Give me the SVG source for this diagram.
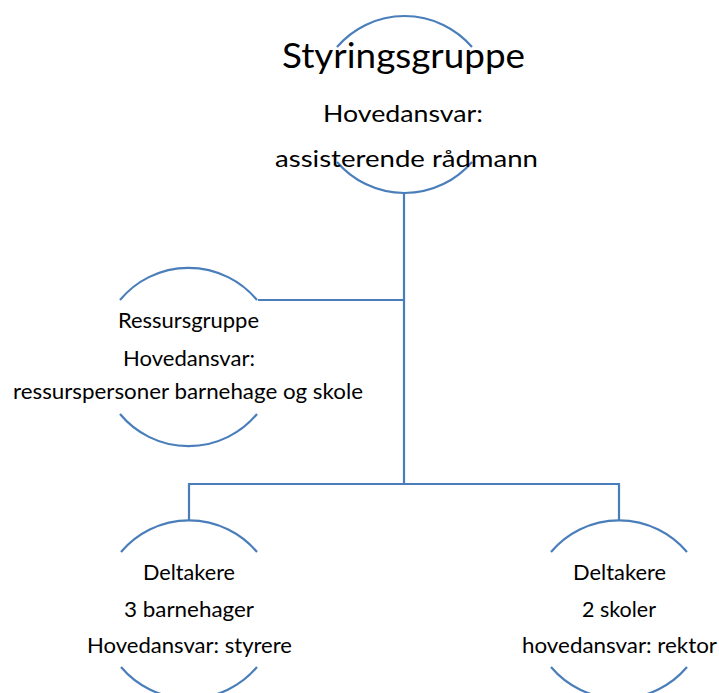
<svg xmlns="http://www.w3.org/2000/svg" width="719" height="693" viewBox="0 0 719 693">
<style>
.arc{fill:none;stroke:#4a7ebb;stroke-width:2.2}
.con{fill:none;stroke:#4a7ebb;stroke-width:2.2}
text{font-family:Lato,"Open Sans",sans-serif;fill:#000;text-anchor:middle}
.t1{font-size:35px}
.t2{font-size:24px}
.t3{font-size:21px}
</style>
<rect width="719" height="693" fill="#fff"/>
<g id="connectors">
<path class="con" d="M404,193 V484 M258,300 H404 M189,520 V484 H619 V520"/>
</g>
<g id="styringsgruppe">
<path class="arc" d="M337,47 A89,89 0 0 1 472,47"/>
<path class="arc" d="M337,162 A89,89 0 0 0 472,162"/>
<text class="t1" x="403.5" y="68" textLength="243" lengthAdjust="spacingAndGlyphs">Styringsgruppe</text>
<text class="t2" x="403" y="122" textLength="160" lengthAdjust="spacingAndGlyphs">Hovedansvar:</text>
<text class="t2" x="406.5" y="167" textLength="263" lengthAdjust="spacingAndGlyphs">assisterende rådmann</text>
</g>
<g id="ressursgruppe">
<path class="arc" d="M120,300 A89,89 0 0 1 257,300"/>
<path class="arc" d="M120,414 A89,89 0 0 0 257,414"/>
<text class="t3" x="188.5" y="328" textLength="141" lengthAdjust="spacingAndGlyphs">Ressursgruppe</text>
<text class="t3" x="189" y="366" textLength="132" lengthAdjust="spacingAndGlyphs">Hovedansvar:</text>
<text class="t3" x="188" y="399" textLength="350" lengthAdjust="spacingAndGlyphs">ressurspersoner barnehage og skole</text>
</g>
<g id="barnehager">
<path class="arc" d="M121,552 A89,89 0 0 1 257,552"/>
<path class="arc" d="M121,667 A89,89 0 0 0 257,667"/>
<text class="t3" x="189" y="580" textLength="92" lengthAdjust="spacingAndGlyphs">Deltakere</text>
<text class="t3" x="189" y="617" textLength="130" lengthAdjust="spacingAndGlyphs">3 barnehager</text>
<text class="t3" x="189.5" y="653" textLength="205" lengthAdjust="spacingAndGlyphs">Hovedansvar: styrere</text>
</g>
<g id="skoler">
<path class="arc" d="M551,552 A89,89 0 0 1 687,552"/>
<path class="arc" d="M551,667 A89,89 0 0 0 687,667"/>
<text class="t3" x="619.5" y="580" textLength="93" lengthAdjust="spacingAndGlyphs">Deltakere</text>
<text class="t3" x="619" y="617" textLength="74" lengthAdjust="spacingAndGlyphs">2 skoler</text>
<text class="t3" x="619.5" y="653" textLength="195" lengthAdjust="spacingAndGlyphs">hovedansvar: rektor</text>
</g>
</svg>
